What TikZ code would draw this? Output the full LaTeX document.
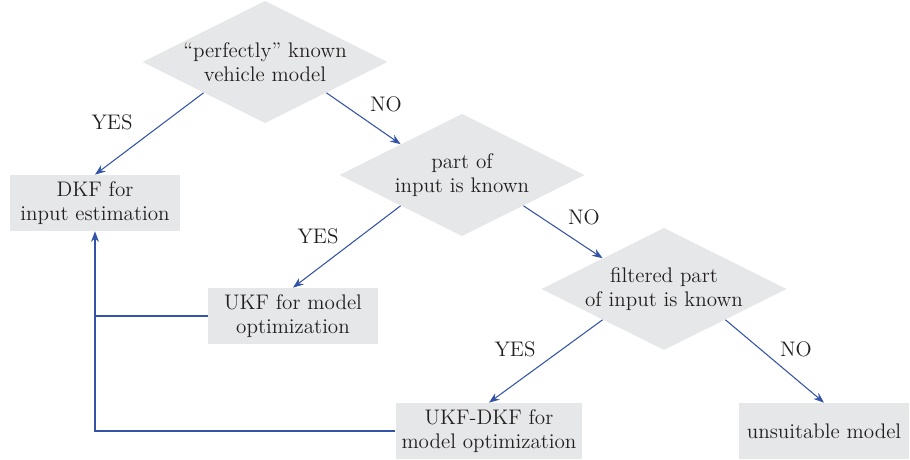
\documentclass[tikz,border=0pt]{standalone}
\usetikzlibrary{shapes.geometric,arrows.meta,positioning}
\definecolor{boxgray}{HTML}{E6E7E8}
\definecolor{lineblue}{HTML}{3353A8}
\definecolor{textdark}{HTML}{231F20}

\begin{document}
\begin{tikzpicture}[x=0.02cm, y=-0.02cm,
  decision/.style={diamond, fill=boxgray, aspect=2, inner sep=0pt,
    minimum width=4.9cm, minimum height=2.45cm, align=center,
    text=textdark, font=\fontsize{12}{14}\selectfont},
  result/.style={rectangle, fill=boxgray, minimum width=3.4cm, minimum height=1.12cm,
    align=center, text=textdark, font=\fontsize{12}{14}\selectfont},
  answer/.style={text=textdark, font=\fontsize{12}{14}\selectfont},
  edge/.style={lineblue, semithick, -{Stealth[length=6pt,width=4.5pt]}}]
  \useasboundingbox (0,0) rectangle (910,460);
  % decisions
  \node[decision] (known) at (265,62) {``perfectly'' known\\vehicle model};
  \node[decision] (part) at (462,175) {part of\\input is known};
  \node[decision] (filt) at (664,289) {filtered part\\of input is known};
  % outcomes
  \node[result] (dkf) at (95,203) {DKF for\\input estimation};
  \node[result] (ukf) at (293,316) {UKF for model\\optimization};
  \node[result] (ukfdkf) at (489,431) {UKF-DKF for\\model optimization};
  \node[result] (unsuit) at (824,431) {unsuitable model};
  % branches
  \draw[edge] (known.south west) -- (dkf.north);
  \draw[edge] (known.south east) -- (part.north west);
  \draw[edge] (part.south west) -- (ukf.north);
  \draw[edge] (part.south east) -- (filt.north west);
  \draw[edge] (filt.south west) -- (ukfdkf.north);
  \draw[edge] (filt.south east) -- (unsuit.north);
  \node[answer] (y1) at (112,122) {YES};
  \node[answer] (n1) at (386,104) {NO};
  \node[answer] (y2) at (318,236) {YES};
  \node[answer] (n2) at (584,217) {NO};
  \node[answer] (y3) at (515,349) {YES};
  \node[answer] (n3) at (796,349) {NO};
  % feedback to DKF
  \coordinate (fb1) at (95,316);
  \coordinate (fb2) at (95,431);
  \draw[lineblue, semithick] (ukf.west) -- (fb1);
  \draw[edge] (ukfdkf.west) -- (fb2) -- (dkf.south);
\end{tikzpicture}
\end{document}
